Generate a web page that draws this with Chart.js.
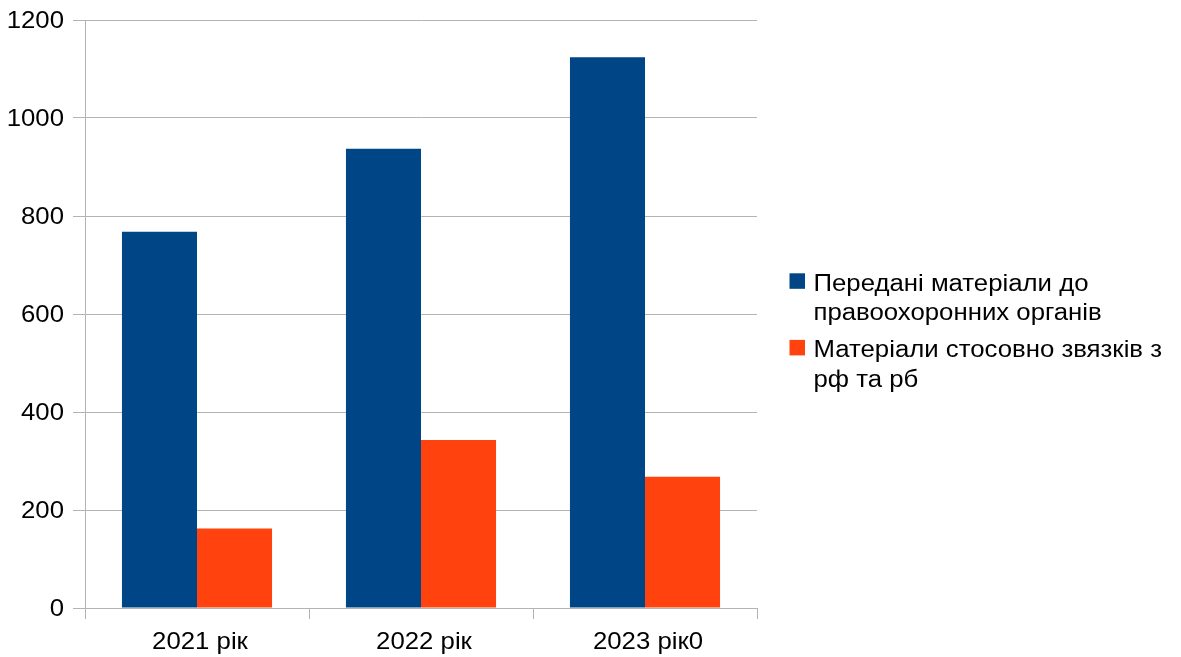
<!DOCTYPE html>
<html>
<head>
<meta charset="utf-8">
<script src="https://cdn.jsdelivr.net/npm/chart.js@4.4.1/dist/chart.umd.min.js"></script>
<style>
  html, body { margin: 0; padding: 0; background: #ffffff; }
  #wrap { width: 1181px; height: 657px; position: relative; }
</style>
</head>
<body>
<div id="wrap"><canvas id="chart" width="1181" height="657"></canvas></div>
<script>
// Categories (years) and the two series
const categories = ["2021 рік", "2022 рік", "2023 рік0"];
const transferred = [768, 937, 1124];
const russiaBelarus = [162, 343, 268];

// Legend text, split into the lines it is shown on
const seriesLabels = [
  ["Передані матеріали до", "правоохоронних органів"],
  ["Матеріали стосовно звязків з", "рф та рб"]
];
const seriesColors = ["#004586", "#ff420e"];

// Y axis range and step
const yMin = 0, yMax = 1200, yStep = 200;

const FONT = "'Liberation Sans', Arial, sans-serif";
const FONT_SIZE = 23;
const STRETCH = 1.12;   // horizontally widened lettering
const GRID = "#b3b3b3";

// Draw a string with a horizontal stretch
function wideText(ctx, text, x, y, align) {
  ctx.save();
  ctx.translate(x, y);
  ctx.scale(STRETCH, 1);
  ctx.textAlign = align;
  ctx.fillText(text, 0, 0);
  ctx.restore();
}

// Axis labels for both scales
const axisLabels = {
  id: "axisLabels",
  afterDraw(chart) {
    const ctx = chart.ctx;
    const xs = chart.scales.x, ys = chart.scales.y;
    ctx.save();
    ctx.font = FONT_SIZE + "px " + FONT;
    ctx.fillStyle = "#000000";
    ctx.textBaseline = "alphabetic";
    xs.ticks.forEach((t, i) => {
      wideText(ctx, categories[i], xs.getPixelForTick(i) + 3, 648.5, "center");
    });
    ys.ticks.forEach((t, i) => {
      wideText(ctx, String(t.value), ys.left + ys.width - 21, ys.getPixelForTick(i) + 8.3, "right");
    });
    ctx.restore();
  }
};

// Legend at the right, drawn on the canvas with wrapped lines
const sideLegend = {
  id: "sideLegend",
  afterDraw(chart) {
    const ctx = chart.ctx;
    const x0 = 789.5, textX = 813.5, box = 15.5, lineH = 29.5, gap = 7.6;
    let y = 290.7; // baseline of the first line
    ctx.save();
    ctx.font = FONT_SIZE + "px " + FONT;
    ctx.textBaseline = "alphabetic";
    chart.data.datasets.forEach((ds, i) => {
      const lines = seriesLabels[i];
      ctx.fillStyle = ds.backgroundColor;
      ctx.fillRect(x0, y - 17.4, box, box);
      ctx.fillStyle = "#000000";
      lines.forEach((ln, k) => wideText(ctx, ln, textX, y + k * lineH, "left"));
      y += lines.length * lineH + gap;
    });
    ctx.restore();
  }
};

new Chart(document.getElementById("chart"), {
  type: "bar",
  data: {
    labels: categories,
    datasets: [
      { label: seriesLabels[0].join(" "), data: transferred, backgroundColor: seriesColors[0] },
      { label: seriesLabels[1].join(" "), data: russiaBelarus, backgroundColor: seriesColors[1] }
    ]
  },
  options: {
    responsive: false,
    animation: false,
    devicePixelRatio: 1,
    layout: { padding: { left: 0, right: 424, top: 20, bottom: 0 } },
    plugins: { legend: { display: false }, tooltip: { enabled: false } },
    datasets: { bar: { categoryPercentage: 0.67, barPercentage: 1.0, borderWidth: 0 } },
    scales: {
      x: {
        offset: true,
        grid: {
          offset: true,
          drawOnChartArea: true,
          color: (c) => (c.index === categories.length ? GRID : "rgba(0,0,0,0)"),
          tickColor: GRID,
          tickLength: 11,
          lineWidth: 1
        },
        border: { display: true, color: GRID, width: 1 },
        ticks: { display: false },
        afterFit(scale) { scale.height = 49; }
      },
      y: {
        min: yMin,
        max: yMax,
        grid: { color: GRID, tickColor: GRID, tickLength: 12, lineWidth: 1 },
        border: { display: true, color: GRID, width: 1 },
        ticks: { display: false, stepSize: yStep },
        afterFit(scale) { scale.width = 85; }
      }
    }
  },
  plugins: [axisLabels, sideLegend]
});
</script>
</body>
</html>
